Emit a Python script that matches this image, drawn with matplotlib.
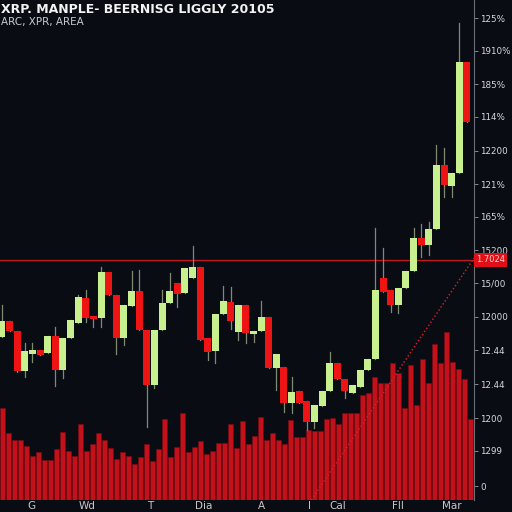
import matplotlib
matplotlib.use('Agg')
import matplotlib.pyplot as plt
from matplotlib.patches import Rectangle

# candles: open, high, low, close
opens  = [32.6, 35.8, 33.8, 25.8, 29.2, 30.0, 29.4, 32.8, 26.0, 32.4,
          35.4, 40.4, 36.8, 36.4, 45.6, 41.0, 32.4, 38.8, 41.8, 34.0,
          23.0, 34.0, 39.4, 43.4, 41.4, 44.4, 46.6, 32.4, 29.8, 37.2,
          39.6, 33.6, 39.0, 33.2, 33.8, 36.6, 26.4, 26.6, 19.4, 21.8,
          19.8, 15.6, 18.8, 21.8, 27.4, 24.2, 21.4, 22.6, 26.0, 28.2,
          44.4, 42.0, 39.0, 42.4, 45.8, 52.4, 51.0, 54.2, 67.0, 62.8,
          65.4, 87.6]
highs  = [39.0, 35.8, 33.8, 31.4, 31.4, 30.0, 32.8, 34.6, 32.4, 36.0,
          41.0, 42.0, 36.8, 46.6, 45.6, 41.0, 39.0, 45.8, 46.0, 34.0,
          34.0, 42.0, 45.4, 43.4, 46.4, 50.8, 46.6, 32.4, 37.2, 42.8,
          42.6, 39.0, 39.0, 33.8, 39.8, 36.6, 29.2, 26.6, 24.6, 21.8,
          19.8, 19.0, 21.8, 29.6, 27.4, 24.2, 23.0, 26.0, 28.2, 54.4,
          50.4, 42.0, 42.4, 45.8, 54.4, 55.2, 55.6, 71.0, 70.4, 65.4,
          95.4, 87.6]
lows   = [32.6, 33.8, 25.6, 24.6, 27.6, 29.0, 29.4, 22.8, 24.4, 32.4,
          35.4, 35.6, 34.6, 34.6, 41.0, 29.2, 31.0, 38.8, 34.0, 14.6,
          22.4, 34.0, 39.4, 38.6, 41.4, 44.4, 32.0, 28.0, 27.4, 37.2,
          34.2, 32.0, 31.4, 31.6, 33.8, 26.4, 22.0, 17.6, 17.4, 19.4,
          14.0, 14.4, 18.8, 21.8, 24.2, 20.4, 21.4, 22.6, 26.0, 28.2,
          41.6, 37.6, 37.4, 42.4, 45.8, 48.6, 49.0, 54.2, 60.6, 60.6,
          65.4, 75.6]
closes = [35.8, 33.8, 25.8, 29.8, 30.0, 29.0, 32.8, 26.0, 32.4, 36.0,
          40.6, 36.4, 36.2, 45.6, 41.0, 32.4, 39.0, 41.8, 34.0, 23.0,
          34.0, 39.4, 41.8, 41.2, 46.4, 46.6, 32.0, 29.6, 37.2, 39.8,
          35.8, 39.0, 33.4, 33.8, 36.6, 26.4, 29.2, 19.4, 21.6, 19.4,
          15.6, 19.0, 21.8, 27.4, 24.2, 21.8, 23.0, 26.0, 28.2, 42.0,
          41.6, 39.0, 42.4, 45.8, 52.4, 51.0, 54.2, 67.0, 63.0, 65.4,
          87.6, 75.6]

volume = [920, 670, 600, 600, 540, 440, 480, 400, 400, 510,
          680, 490, 440, 760, 490, 560, 670, 600, 520, 410,
          480, 440, 360, 430, 560, 390, 510, 810, 430, 530,
          870, 480, 530, 590, 460, 490, 570, 570, 760, 520,
          790, 560, 640, 830, 600, 670, 600, 560, 800, 630,
          630, 700, 690, 690, 810, 820, 760, 870, 870, 870,
          1050, 1070, 1230, 1170, 1170, 1370, 1270, 920, 1350, 950,
          1410, 1170, 1560, 1370, 1680, 1380, 1310, 1210, 810]

x_labels = ['G', 'Wd', 'T', 'Dia', 'A', 'I', 'Cal', 'Fll', 'Mar']
x_label_pos = [3.8, 11.2, 19.4, 26.4, 34.0, 40.4, 44.1, 52.0, 59.0]

y_ticks = [96.4, 89.8, 83.2, 76.6, 69.8, 63.2, 56.6, 50.0, 43.4, 36.6,
           30.0, 23.2, 16.4, 9.8, 2.8]
y_labels = ['125%', '1910%', '185%', '114%', '12200', '121%', '165%', '15200',
            '15/00', '12000', '12.44', '12.44', '1200', '1299', '0']

level = 48.0
trend_x = [40.6, 61.93]
trend_y = [0.0, 48.4]

bg = '#0a0c14'
green = '#c9f08e'
red = '#ee1414'
vol_red = '#c3111b'

fig = plt.figure(figsize=(5.12, 5.12), dpi=100, facecolor=bg)
rect = [0.0, 12 / 512, 474 / 512, 500 / 512]

# volume in the background
ax_vol = fig.add_axes(rect)
ax_vol.set_facecolor(bg)
ax_vol.bar(range(len(volume)), volume, width=0.86, color=vol_red,
           edgecolor='#7e0a10', linewidth=0.4)
ax_vol.set_xlim(-0.42, len(volume) - 0.42)
ax_vol.set_ylim(0, 5000)
ax_vol.axis('off')

# candles on top
ax = fig.add_axes(rect)
ax.patch.set_alpha(0)
for i in range(len(opens)):
    o, h, l, c = opens[i], highs[i], lows[i], closes[i]
    col = green if c >= o else red
    ax.plot([i, i], [l, h], color='#7f8a72', linewidth=0.9, zorder=2)
    ax.add_patch(Rectangle((i - 0.46, min(o, c)), 0.92, max(abs(c - o), 0.3),
                           facecolor=col, edgecolor='none', zorder=3))

ax.axhline(level, color='#c0161e', linewidth=1.0, zorder=1)
ax.plot(trend_x, trend_y, color='#e0202a', linewidth=1.0, linestyle=':', zorder=1)

ax.set_xlim(-0.26, 61.93)
ax.set_ylim(0, 100)

ax.yaxis.tick_right()
ax.set_yticks(y_ticks)
ax.set_yticklabels(y_labels)
ax.tick_params(axis='y', colors='#9a9aa0', labelcolor='#d8d8dc', labelsize=6.3,
               length=3, width=0.6, pad=1.5)
ax.set_xticks(x_label_pos)
ax.set_xticklabels(x_labels)
ax.tick_params(axis='x', colors='#c8c8c8', labelsize=7.5, length=0, pad=1)
for s in ['top', 'left', 'bottom']:
    ax.spines[s].set_visible(False)
ax.spines['right'].set_color('#6a6e78')
ax.spines['right'].set_linewidth(0.8)

# price tag on the right axis
ax.text(1.004, level, '1.7024', transform=ax.get_yaxis_transform(),
        fontsize=6, color='#ffd0d0', va='center', ha='left',
        bbox=dict(boxstyle='square,pad=0.25', facecolor='#e01018', edgecolor='none'))

fig.text(0.002, 0.982, 'XRP. MANPLE- BEERNISG LIGGLY 20105', color='#f2f2f2',
         fontsize=9, fontweight='bold', ha='left', va='center')
fig.text(0.002, 0.958, 'ARC, XPR, AREA', color='#c8c8d0', fontsize=7.5,
         ha='left', va='center')

fig.savefig('out.png', dpi=100, facecolor=bg)
